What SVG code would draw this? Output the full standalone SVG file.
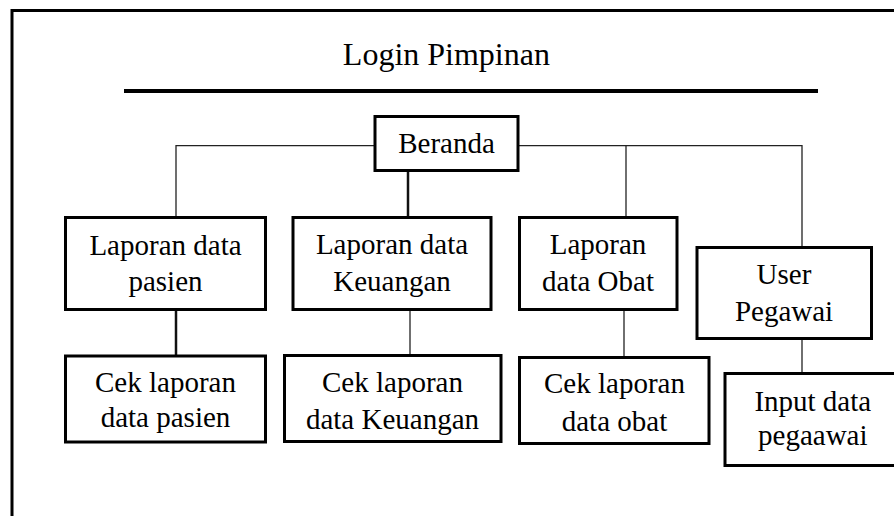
<svg xmlns="http://www.w3.org/2000/svg" width="894" height="516" viewBox="0 0 894 516">
<style>
  .box { fill: #fff; stroke: #000; stroke-width: 3; }
  .lbl { font-family: 'Liberation Serif', 'Times New Roman', serif; font-size: 29px; fill: #000; text-anchor: middle; }
  .thin { fill: none; stroke: #222; stroke-width: 1.3; }
  .thick { fill: none; stroke: #111; stroke-width: 2.5; }
</style>
<rect width="894" height="516" fill="#fff"/>
<rect id="frame" x="12" y="10.5" width="900" height="520" fill="none" stroke="#000" stroke-width="3"/>
<text id="title" class="lbl" x="446.4" y="65" style="font-size:32px">Login Pimpinan</text>
<line x1="124" y1="91" x2="818" y2="91" stroke="#000" stroke-width="4"/>
<g id="connectors">
  <path class="thin" d="M374,145.7 H176 V216"/>
  <path class="thin" d="M519,145.7 H802 V246"/>
  <path class="thin" d="M626,145.7 V216"/>
  <path class="thick" d="M408,172 V216"/>
  <path class="thick" d="M176,310 V355"/>
  <path class="thin" d="M410,310 V354"/>
  <path class="thin" d="M624,310 V356.5"/>
  <path class="thin" d="M802,340 V372"/>
</g>
<g id="beranda">
  <rect class="box" x="375" y="116.5" width="143" height="54"/>
  <text class="lbl" x="446.5" y="153.3">Beranda</text>
</g>
<g id="lap-pasien">
  <rect class="box" x="65.5" y="217.5" width="200" height="92"/>
  <text class="lbl" x="165.5" y="255">Laporan data</text>
  <text class="lbl" x="165.5" y="291">pasien</text>
</g>
<g id="lap-keuangan">
  <rect class="box" x="293" y="217.5" width="198" height="92"/>
  <text class="lbl" x="392" y="254.3">Laporan data</text>
  <text class="lbl" x="392" y="290.7">Keuangan</text>
</g>
<g id="lap-obat">
  <rect class="box" x="519.5" y="217.5" width="157.5" height="92"/>
  <text class="lbl" x="598" y="254">Laporan</text>
  <text class="lbl" x="598" y="290.7">data Obat</text>
</g>
<g id="user-pegawai">
  <rect class="box" x="697" y="247.5" width="174.5" height="91"/>
  <text class="lbl" x="784" y="284">User</text>
  <text class="lbl" x="784" y="321">Pegawai</text>
</g>
<g id="cek-pasien">
  <rect class="box" x="65.5" y="356" width="200" height="86"/>
  <text class="lbl" x="165.5" y="392">Cek laporan</text>
  <text class="lbl" x="165.5" y="427">data pasien</text>
</g>
<g id="cek-keuangan">
  <rect class="box" x="284.5" y="355.5" width="216.5" height="86"/>
  <text class="lbl" x="392.5" y="392.3">Cek laporan</text>
  <text class="lbl" x="392.5" y="429">data Keuangan</text>
</g>
<g id="cek-obat">
  <rect class="box" x="519.5" y="357.5" width="189.5" height="86"/>
  <text class="lbl" x="614.5" y="393.3">Cek laporan</text>
  <text class="lbl" x="614.5" y="430.7">data obat</text>
</g>
<g id="input-pegawai">
  <rect class="box" x="725" y="373.5" width="180" height="92"/>
  <text class="lbl" x="812.8" y="410.5">Input data</text>
  <text class="lbl" x="812.8" y="445">pegaawai</text>
</g>
</svg>
